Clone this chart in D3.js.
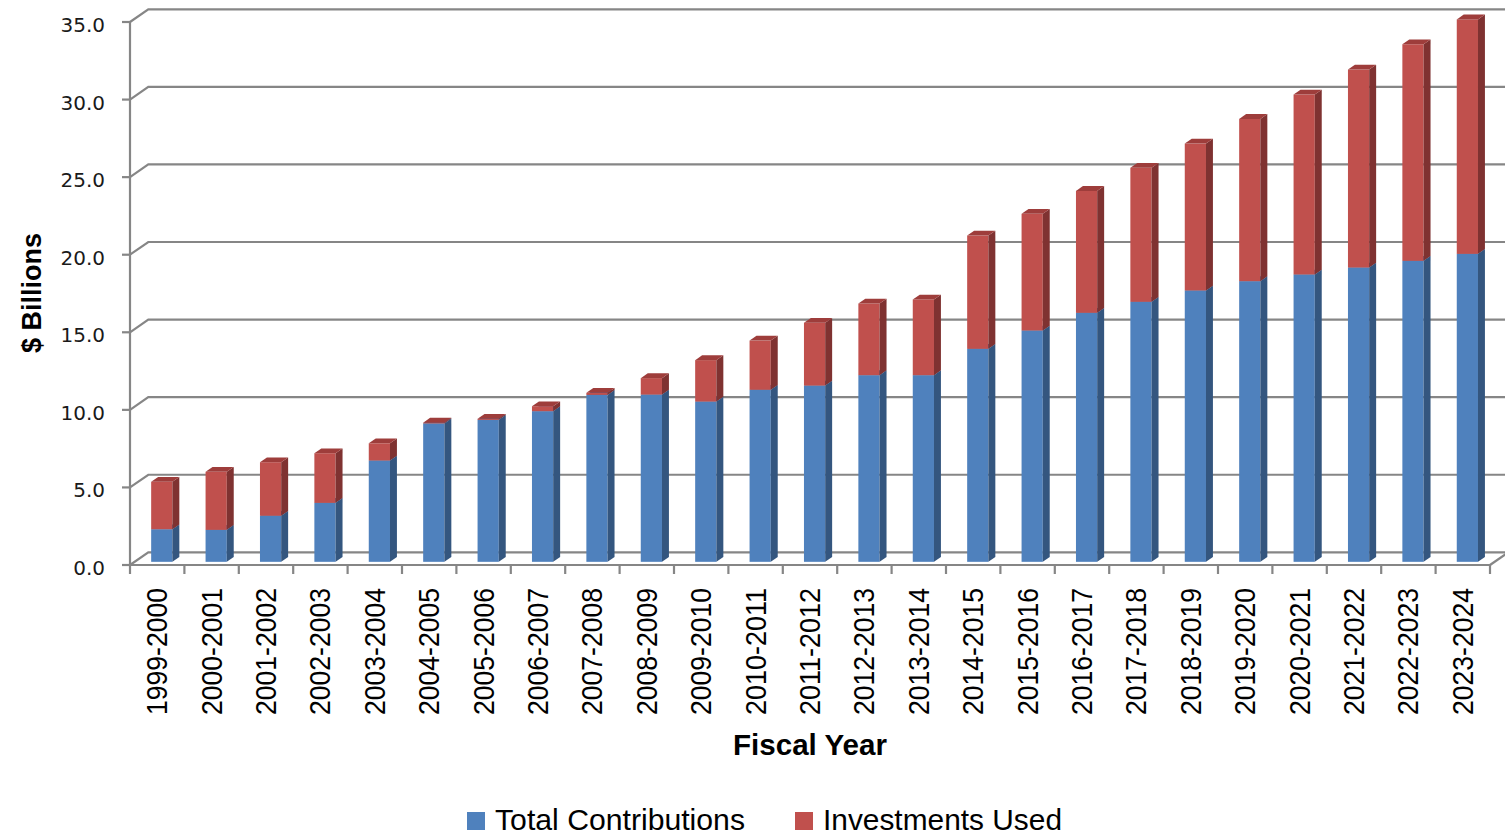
<!DOCTYPE html>
<html>
<head>
<meta charset="utf-8">
<script src="https://cdn.jsdelivr.net/npm/d3@7/dist/d3.min.js"></script>
<style>
  html, body { margin: 0; padding: 0; background: #ffffff; }
  svg { display: block; }
</style>
</head>
<body>
<script>
// Fiscal years on the category axis
const categories = [
  "1999-2000", "2000-2001", "2001-2002", "2002-2003", "2003-2004",
  "2004-2005", "2005-2006", "2006-2007", "2007-2008", "2008-2009",
  "2009-2010", "2010-2011", "2011-2012", "2012-2013", "2013-2014",
  "2014-2015", "2015-2016", "2016-2017", "2017-2018", "2018-2019",
  "2019-2020", "2020-2021", "2021-2022", "2022-2023", "2023-2024"
];

// $ billions per fiscal year
const totalContributions = [
  2.10, 2.06, 2.97, 3.80, 6.53, 8.92, 9.15, 9.71, 10.76, 10.78,
  10.33, 11.09, 11.36, 12.03, 12.03, 13.73, 14.91, 16.05, 16.76, 17.49,
  18.09, 18.52, 18.97, 19.40, 19.85
];
const investmentsUsed = [
  3.06, 3.74, 3.45, 3.20, 1.11, 0.05, 0.07, 0.32, 0.13, 1.06,
  2.67, 3.17, 4.05, 4.62, 4.88, 7.30, 7.52, 7.86, 8.64, 9.47,
  10.46, 11.60, 12.76, 13.96, 15.11
];

const yTicks = [0, 5, 10, 15, 20, 25, 30, 35];
const seriesNames = ["Total Contributions", "Investments Used"];

const W = 1505, H = 837;

const svg = d3.select("body").append("svg")
  .attr("width", W).attr("height", H)
  .style("background", "#ffffff");

// Front plane of the plot box
const x = d3.scaleBand()
  .domain(categories)
  .range([130, 1490])
  .paddingInner(0.61)
  .paddingOuter(0.305);

const y = d3.scaleLinear().domain([0, 35]).range([565, 22]);

// Oblique depth vector for the full box depth
const DX = 18.3, DY = -12.7;
const frontDepth = 0.25, backDepth = 0.63;
const ox0 = DX * frontDepth, oy0 = DY * frontDepth;
const ox1 = DX * backDepth, oy1 = DY * backDepth;

const gridColor = "#868686";
const gridWidth = 2.2;

// Walls: side-wall slants and back-wall gridlines
const grid = svg.append("g");
const [x0, x1] = x.range();
grid.selectAll("path.grid")
  .data(yTicks)
  .join("path")
  .attr("class", "grid")
  .attr("fill", "none")
  .attr("stroke", gridColor)
  .attr("stroke-width", gridWidth)
  .attr("d", v => `M${x0},${y(v)} L${x0 + DX},${y(v) + DY} L${x1 + DX + 5},${y(v) + DY}`);

// Right edge of the floor
grid.append("path")
  .attr("fill", "none")
  .attr("stroke", gridColor)
  .attr("stroke-width", gridWidth)
  .attr("d", `M${x1},${y(0)} L${x1 + DX},${y(0) + DY}`);

// Stacked 3D columns
const rows = categories.map((c, i) => ({
  cat: c,
  [seriesNames[0]]: totalContributions[i],
  [seriesNames[1]]: investmentsUsed[i]
}));
const stacked = d3.stack().keys(seriesNames)(rows);

const faceColors = {
  "Total Contributions": { front: "#4f81bd", side: "#34567f", top: "#4470a6" },
  "Investments Used":   { front: "#c0504d", side: "#7f3231", top: "#9e3d3b" }
};

const bw = x.bandwidth();
const bars = svg.append("g");

categories.forEach((cat, i) => {
  const g = bars.append("g");
  stacked.forEach(layer => {
    const d = layer[i];
    const c = faceColors[layer.key];
    const yb = y(d[0]), yt = y(d[1]);
    const xl = x(cat), xr = xl + bw;
    // front face
    g.append("rect")
      .attr("x", xl + ox0).attr("y", yt + oy0)
      .attr("width", bw).attr("height", Math.max(0, yb - yt))
      .attr("fill", c.front);
    // right side face
    g.append("path")
      .attr("fill", c.side)
      .attr("d", `M${xr + ox0},${yt + oy0} L${xr + ox1},${yt + oy1} L${xr + ox1},${yb + oy1} L${xr + ox0},${yb + oy0} Z`);
    // top face
    g.append("path")
      .attr("fill", c.top)
      .attr("d", `M${xl + ox0},${yt + oy0} L${xl + ox1},${yt + oy1} L${xr + ox1},${yt + oy1} L${xr + ox0},${yt + oy0} Z`);
  });
});

// Value axis line and ticks
const yAxis = svg.append("g");
yAxis.append("path")
  .attr("fill", "none").attr("stroke", gridColor).attr("stroke-width", gridWidth)
  .attr("d", `M${x0},${y(35)} V${y(0)} H${x1}`);

yAxis.selectAll("line.ytick")
  .data(yTicks)
  .join("line")
  .attr("class", "ytick")
  .attr("x1", x0 - 8).attr("x2", x0)
  .attr("y1", d => y(d)).attr("y2", d => y(d))
  .attr("stroke", gridColor).attr("stroke-width", gridWidth);

yAxis.selectAll("text.ylab")
  .data(yTicks)
  .join("text")
  .attr("class", "ylab")
  .attr("x", 105)
  .attr("y", d => y(d) + 3)
  .attr("dy", "0.35em")
  .attr("text-anchor", "end")
  .attr("font-family", "'DejaVu Sans', Verdana, sans-serif")
  .attr("font-size", 20)
  .attr("fill", "#1a1a1a")
  .text(d => d3.format(".1f")(d));

// Category axis ticks at band boundaries
const step = x.step();
const catTicks = d3.range(categories.length + 1).map(i => x0 + i * step);
svg.append("g").selectAll("line")
  .data(catTicks)
  .join("line")
  .attr("x1", d => d).attr("x2", d => d)
  .attr("y1", y(0)).attr("y2", y(0) + 9)
  .attr("stroke", gridColor).attr("stroke-width", gridWidth);

// Rotated category labels
svg.append("g").selectAll("text")
  .data(categories)
  .join("text")
  .attr("transform", d => `translate(${x(d) + bw / 2 + 10},${588}) rotate(-90)`)
  .attr("text-anchor", "end")
  .attr("font-family", "'Liberation Sans', Arial, sans-serif")
  .attr("font-size", 29)
  .attr("textLength", 127)
  .attr("lengthAdjust", "spacingAndGlyphs")
  .attr("fill", "#000")
  .text(d => d);

// Axis titles
svg.append("text")
  .attr("transform", `translate(41,293) rotate(-90)`)
  .attr("text-anchor", "middle")
  .attr("font-family", "'Liberation Sans', Arial, sans-serif")
  .attr("font-weight", "bold")
  .attr("font-size", 27)
  .attr("fill", "#000")
  .text("$ Billions");

svg.append("text")
  .attr("x", 810).attr("y", 755)
  .attr("text-anchor", "middle")
  .attr("font-family", "'Liberation Sans', Arial, sans-serif")
  .attr("font-weight", "bold")
  .attr("font-size", 29)
  .attr("textLength", 154)
  .attr("lengthAdjust", "spacingAndGlyphs")
  .attr("fill", "#000")
  .text("Fiscal Year");

// Legend
const legendItems = [
  { name: seriesNames[0], color: faceColors[seriesNames[0]].front, sx: 467, tx: 495, len: 250 },
  { name: seriesNames[1], color: faceColors[seriesNames[1]].front, sx: 795, tx: 823, len: 239 }
];
const legend = svg.append("g");
legend.selectAll("rect")
  .data(legendItems)
  .join("rect")
  .attr("x", d => d.sx).attr("y", 812)
  .attr("width", 18).attr("height", 18)
  .attr("fill", d => d.color);
legend.selectAll("text")
  .data(legendItems)
  .join("text")
  .attr("x", d => d.tx).attr("y", 830)
  .attr("font-family", "'Liberation Sans', Arial, sans-serif")
  .attr("font-size", 30)
  .attr("textLength", d => d.len)
  .attr("lengthAdjust", "spacingAndGlyphs")
  .attr("fill", "#000")
  .text(d => d.name);
</script>
</body>
</html>
